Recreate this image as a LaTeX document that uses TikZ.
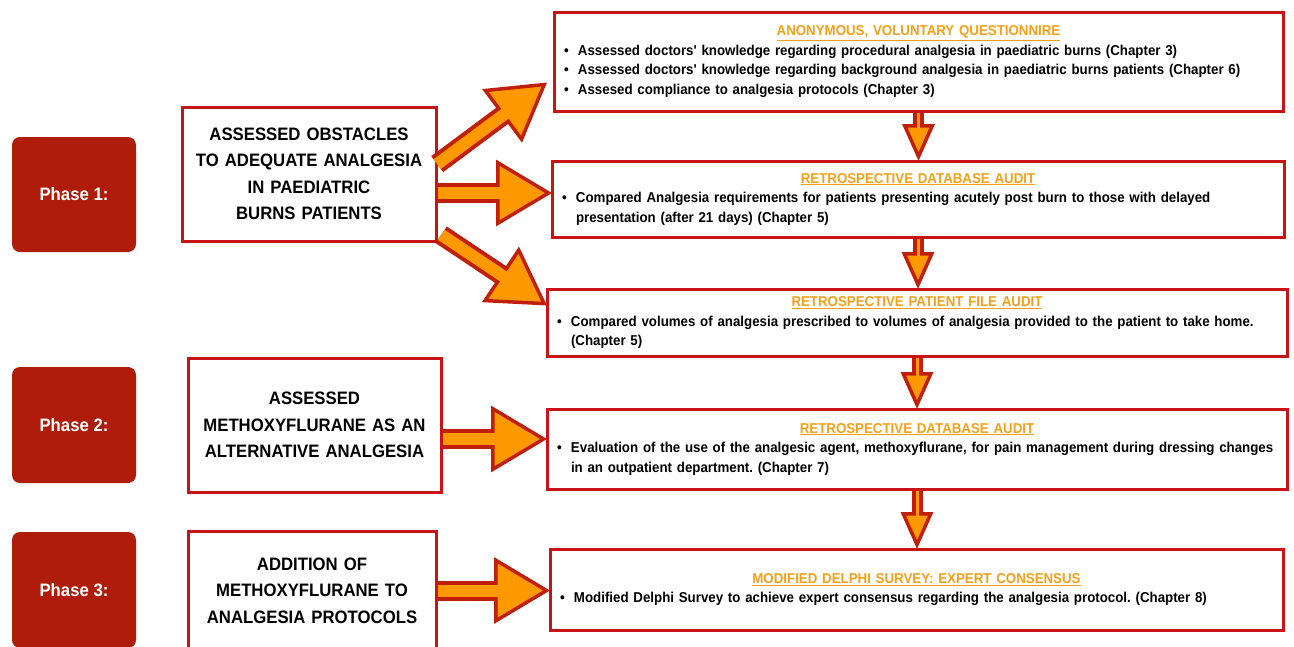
\documentclass[tikz,border=0pt]{standalone}
\usepackage{fontspec}
\usetikzlibrary{arrows.meta}
\newfontfamily\narrowsf{Liberation Sans}[FakeStretch=0.93]
\definecolor{boxred}{RGB}{200,20,20}
\definecolor{phasered}{RGB}{176,28,10}
\definecolor{arrowred}{RGB}{192,32,10}
\definecolor{arroworange}{RGB}{255,153,0}
\definecolor{titleorange}{RGB}{246,160,24}
\begin{document}
\frenchspacing
\begin{tikzpicture}[x=1pt,y=-1pt,
		phase/.style={fill=phasered,rounded corners=8pt,anchor=north west,outer sep=0pt,text=white,font=\narrowsf\bfseries\fontsize{18}{20}\selectfont},
		aim/.style={draw=boxred,line width=3pt,fill=white,anchor=north west,outer sep=0pt,align=center,inner xsep=2pt,font=\narrowsf\bfseries\fontsize{18}{26.5}\selectfont},
		study/.style={draw=boxred,line width=3pt,fill=white,anchor=north west,outer sep=0pt,align=left,inner xsep=8pt,inner ysep=2pt,font=\narrowsf\bfseries\fontsize{14.3}{19.5}\selectfont},
		bigarrow/.style={draw=arrowred,line width=20pt,shorten <=1.5pt,-{Triangle[length=56pt,width=66pt,fill=arroworange,line width=3.5pt]},postaction={draw=arroworange,line width=12pt,arrows=-,shorten <=1.5pt,shorten >=48pt}},
		downarrow/.style={draw=arrowred,line width=11pt,shorten <=1.5pt,-{Triangle[length=37pt,width=32pt,fill=arroworange,line width=3.5pt]},postaction={draw=arroworange,line width=3pt,arrows=-,shorten <=1.5pt,shorten >=31pt}}]
	
	\def\stitle#1{\makebox[\linewidth]{\textcolor{titleorange}{\underline{#1}}}}
	\def\bitem#1{\par\hangindent=16pt\hangafter=1\noindent\makebox[16pt][l]{\hspace{2pt}\textbullet}#1\par}
	
	\useasboundingbox (0,0) rectangle (1294,646);
	\clip (0,0) rectangle (1294,646);
	
	\node[phase,minimum width=124pt,minimum height=115pt] (ph1) at (12,137) {Phase 1:};
	\node[phase,minimum width=124pt,minimum height=116pt] (ph2) at (12,367) {Phase 2:};
	\node[phase,minimum width=124pt,minimum height=116pt] (ph3) at (12,532) {Phase 3:};
	
	\node[aim,text width=250pt,minimum height=134pt] (obst) at (182,107) {ASSESSED OBSTACLES\\TO ADEQUATE ANALGESIA\\IN PAEDIATRIC\\BURNS PATIENTS};
	\node[aim,text width=249pt,minimum height=134pt] (meth) at (188,358) {ASSESSED\\METHOXYFLURANE AS AN\\ALTERNATIVE ANALGESIA};
	\node[aim,text width=244pt,minimum height=119pt] (add) at (188,531) {ADDITION OF\\METHOXYFLURANE TO\\ANALGESIA PROTOCOLS};
	
	\node[study,text width=713pt,minimum height=99pt] (quest) at (554,12) {\stitle{ANONYMOUS, VOLUNTARY QUESTIONNIRE}
		\bitem{Assessed doctors' knowledge regarding procedural analgesia in paediatric burns (Chapter 3)}
		\bitem{Assessed doctors' knowledge regarding background analgesia in paediatric burns patients (Chapter 6)}
		\bitem{Assesed compliance to analgesia protocols (Chapter 3)}};
	\node[study,text width=716pt,minimum height=76pt] (dbaudit) at (552,161) {\stitle{RETROSPECTIVE DATABASE AUDIT}
		\bitem{Compared Analgesia requirements for patients presenting acutely post burn to those with delayed\newline presentation (after 21 days) (Chapter 5)}};
	\node[study,text width=724pt,minimum height=67pt] (fileaudit) at (547,289) {\stitle{RETROSPECTIVE PATIENT FILE AUDIT}
		\bitem{Compared volumes of analgesia prescribed to volumes of analgesia provided to the patient to take home.\newline (Chapter 5)}};
	\node[study,text width=724pt,minimum height=80pt] (mxaudit) at (547,409) {\stitle{RETROSPECTIVE DATABASE AUDIT}
		\bitem{Evaluation of the use of the analgesic agent, methoxyflurane, for pain management during dressing changes\newline in an outpatient department. (Chapter 7)}};
	\node[study,text width=717pt,minimum height=81pt] (delphi) at (550,549) {\stitle{MODIFIED DELPHI SURVEY: EXPERT CONSENSUS}
		\bitem{Modified Delphi Survey to achieve expert consensus regarding the analgesia protocol. (Chapter 8)}};
	
	\draw[bigarrow] ([yshift=9pt]obst.east) -- ([xshift=-7pt,yshift=-21pt]quest.west);
	\draw[bigarrow] ([yshift=-19pt]obst.east) -- ([yshift=-19pt]obst.east -| dbaudit.west);
	\draw[bigarrow] ([xshift=4pt,yshift=-60pt]obst.east) -- ([yshift=17pt]fileaudit.west);
	\draw[bigarrow] ([yshift=-14pt]meth.east) -- ([yshift=-14pt]meth.east -| mxaudit.west);
	\draw[bigarrow] (add.east) -- (add.east -| delphi.west);
	
	\foreach \u/\v in {quest/dbaudit,dbaudit/fileaudit,fileaudit/mxaudit,mxaudit/delphi}
		\draw[downarrow] (\u.south) -- (\u.south |- \v.north);
	
\end{tikzpicture}
\end{document}
